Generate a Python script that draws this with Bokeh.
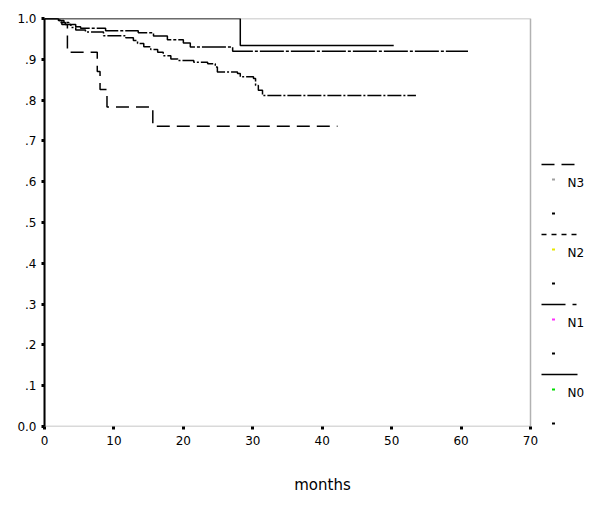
from bokeh.plotting import figure
from bokeh.models import Range1d, FixedTicker, BoxAnnotation
from bokeh.embed import file_html
from bokeh.resources import INLINE
from bokeh.core.properties import value

FONT = "DejaVu Sans"

# ---- data (Kaplan-Meier curves) ----
groups = ["N3", "N2", "N1", "N0"]

n0_t = [0, 28.2]
n0_s = [1.0, 0.934]
n0_end = 50.3

n1_t = [0, 2.0, 2.8, 3.5, 4.5, 5.2, 8.8, 13.5, 15.7, 17.7, 20.0, 21.0, 27.1]
n1_s = [1.0, 0.995, 0.990, 0.985, 0.980, 0.976, 0.970, 0.965, 0.957, 0.948, 0.940, 0.930, 0.920]
n1_end = 61.0

n2_t = [0, 2.2, 3.0, 3.8, 4.5, 5.9, 8.5, 11.7, 12.8, 13.4, 14.3, 15.3, 16.3, 17.1, 18.2,
        19.2, 21.5, 23.5, 24.6, 24.9, 27.8, 28.2, 30.1, 30.4, 30.8, 31.4]
n2_s = [1.0, 0.990, 0.985, 0.978, 0.972, 0.967, 0.958, 0.953, 0.946, 0.939, 0.931, 0.924,
        0.917, 0.909, 0.901, 0.897, 0.893, 0.889, 0.881, 0.869, 0.865, 0.857, 0.853, 0.836,
        0.824, 0.811]
n2_end = 53.5

n3_t = [0, 2.5, 3.3, 7.6, 8.0, 9.0, 15.6]
n3_s = [1.0, 0.985, 0.917, 0.870, 0.826, 0.783, 0.736]
n3_end = 42.2

x_ticks = [0, 10, 20, 30, 40, 50, 60, 70]
y_ticks = [0.0, 0.1, 0.2, 0.3, 0.4, 0.5, 0.6, 0.7, 0.8, 0.9, 1.0]
y_tick_labels = ["0.0", ".1", ".2", ".3", ".4", ".5", ".6", ".7", ".8", ".9", "1.0"]
x_title = "months"
x_max = 70

# ---- styles ----
curve_dash = {"N0": "solid", "N1": "24 2 3 2", "N2": "14 2 2 2", "N3": "13 7"}
legend_dash = {"N0": "solid", "N1": "24 7 4 7", "N2": "5 5", "N3": "13 7"}
tick_colors = {"N3": "#a0a0a0", "N2": "#e8e800", "N1": "#ff30ff", "N0": "#00dd00"}

# ---- layout (figure pixels) ----
W, H = 600, 506
LEFT, TOP, BOTTOM = 44, 18, 80
AXIS_W = 486                       # pixel width of 0..70 months
frame_w = W - LEFT
frame_h = H - TOP - BOTTOM
x_end = x_max * frame_w / AXIS_W

p = figure(width=W, height=H, output_backend="svg", toolbar_location=None,
           x_range=Range1d(0, x_end), y_range=Range1d(0, 1.0),
           min_border_left=LEFT, min_border_right=0, min_border_top=TOP,
           min_border_bottom=BOTTOM)
p.xgrid.visible = False
p.ygrid.visible = False
p.outline_line_color = None
p.background_fill_color = "white"
p.border_fill_color = "white"

# pixel-space ranges for the legend area inside the frame
p.extra_x_ranges = {"px": Range1d(LEFT, W)}
p.extra_y_ranges = {"py": Range1d(TOP + frame_h, TOP)}

# plot box 0..70 x 0..1
p.add_layout(BoxAnnotation(left=0, right=x_max, bottom=0, top=1.0,
                           fill_alpha=0, line_color="black", line_width=1.5))

curves = {"N0": (n0_t, n0_s, n0_end), "N1": (n1_t, n1_s, n1_end),
          "N2": (n2_t, n2_s, n2_end), "N3": (n3_t, n3_s, n3_end)}
for g in groups:
    t, s, end = curves[g]
    p.step(x=list(t) + [end], y=list(s) + [s[-1]], mode="after",
           line_color="black", line_width=1.5, line_dash=curve_dash[g])

for ax in (p.xaxis[0], p.yaxis[0]):
    ax.axis_line_color = "black"
    ax.axis_line_width = 2
    ax.major_tick_line_color = "black"
    ax.major_tick_line_width = 3
    ax.major_tick_in = 0
    ax.major_tick_out = 3
    ax.minor_tick_line_color = None
    ax.major_label_text_font = FONT
    ax.major_label_text_font_size = "12px"
    ax.major_label_text_color = "black"

p.xaxis[0].axis_line_color = None
p.xaxis[0].ticker = FixedTicker(ticks=x_ticks)
p.yaxis[0].ticker = FixedTicker(ticks=y_ticks)
p.yaxis[0].major_label_overrides = {t: l for t, l in zip(y_ticks, y_tick_labels)}
p.yaxis[0].major_label_standoff = 5
p.xaxis[0].major_label_standoff = 6
p.xaxis[0].axis_label = x_title
p.xaxis[0].axis_label_text_font = FONT
p.xaxis[0].axis_label_text_font_size = "15px"
p.xaxis[0].axis_label_text_font_style = "normal"
p.xaxis[0].axis_label_text_color = "black"
p.xaxis[0].axis_label_standoff = 28

# ---- legend (page-pixel coordinates) ----
LX0, LX1, TICKX, TEXTX = 541, 577, 553, 567
y0, step = 164, 70
for i, g in enumerate(groups):
    yl = y0 + step * i
    kw = dict(x_range_name="px", y_range_name="py")
    p.line(x=[LX0, LX1], y=[yl, yl], line_color="black", line_width=1.5,
           line_dash=legend_dash[g], **kw)
    p.segment(x0=[TICKX - 1.5], y0=[yl + 15], x1=[TICKX + 1.5], y1=[yl + 15],
              line_color=tick_colors[g], line_width=2, **kw)
    p.text(x=[TEXTX], y=[yl + 18], text=[g], text_font=value(FONT),
           text_font_size="12px", text_baseline="middle", text_align="left",
           text_color="black", **kw)
    p.segment(x0=[TICKX - 1.5], y0=[yl + 49], x1=[TICKX + 1.5], y1=[yl + 49],
              line_color="black", line_width=2, **kw)

open("out.html", "w").write(file_html(p, INLINE))
